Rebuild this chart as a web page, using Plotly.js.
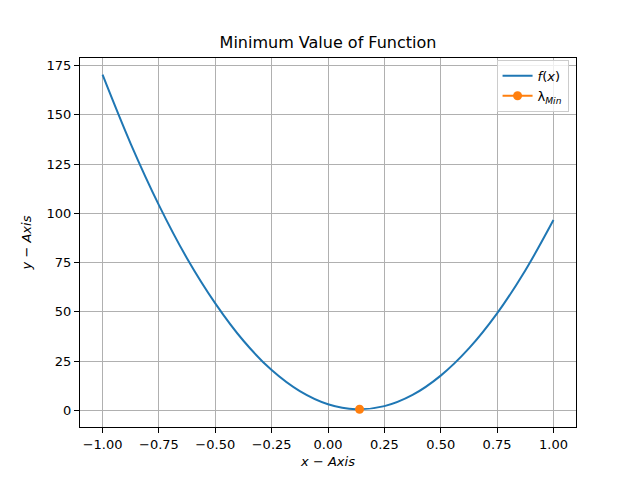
<!DOCTYPE html>
<html>
<head>
<meta charset="utf-8">
<script src="https://cdn.plot.ly/plotly-3.0.1.min.js"></script>
<style>
  body { margin: 0; background: #fff; }
  #chart { width: 640px; height: 480px; }
</style>
</head>
<body>
<div id="chart"></div>
<script>
// values (smoothed by eye)
var xs = [-1, -0.875, -0.75, -0.625, -0.5, -0.375, -0.25, -0.125, 0,
          0.125, 0.25, 0.375, 0.5, 0.625, 0.75, 0.875, 1];
var fx = [170.4, 135.3, 104.2, 77.1, 54.3, 35.3, 20.4, 9.7, 3.05,
          0.52, 2.1, 7.8, 17.6, 31.4, 49.2, 71.0, 96.6];
var minX = [0.14];
var minY = [0.5];

var font = 'DejaVu Sans, sans-serif';

var data = [{
  x: xs,
  y: fx,
  mode: 'lines',
  line: { color: '#1f77b4', width: 2, shape: 'spline', smoothing: 1 },
  name: '<i>f</i>(<i>x</i>)'
}, {
  x: minX,
  y: minY,
  mode: 'lines+markers',
  line: { color: '#ff7f0e', width: 2 },
  marker: { color: '#ff7f0e', size: 9 },
  name: '&#955;<sub><i>Min</i></sub>'
}];

var axisStyle = {
  showline: true,
  mirror: true,
  linecolor: '#000',
  linewidth: 1,
  ticks: 'outside',
  ticklen: 5,
  tickcolor: '#000',
  showgrid: true,
  gridcolor: '#b0b0b0',
  gridwidth: 1,
  zeroline: false,
  tickfont: { family: font, size: 13, color: '#000' }
};

var layout = {
  width: 640,
  height: 480,
  margin: { l: 80, r: 64, t: 58, b: 53 },
  paper_bgcolor: '#fff',
  plot_bgcolor: '#fff',
  showlegend: true,
  font: { family: font, color: '#000' },
  title: {
    text: 'Minimum Value of Function',
    font: { family: font, size: 16, color: '#000' },
    x: 0.5, xref: 'paper', xanchor: 'center',
    y: 0.912, yref: 'container', yanchor: 'middle'
  },
  xaxis: Object.assign({}, axisStyle, {
    range: [-1.1, 1.1],
    tick0: -1,
    dtick: 0.25,
    tickformat: '.2f',
    title: { text: '<i>x</i> &#8722; <i>Axis</i>', font: { family: font, size: 13 }, standoff: 6 }
  }),
  yaxis: Object.assign({}, axisStyle, {
    range: [-8.5, 178.9],
    tick0: 0,
    dtick: 25,
    title: { text: '<i>y</i> &#8722; <i>Axis</i>', font: { family: font, size: 13 }, standoff: 12 }
  }),
  legend: {
    x: 0.985, y: 0.995, xanchor: 'right', yanchor: 'top',
    bgcolor: 'rgba(255,255,255,0.8)',
    bordercolor: '#cccccc',
    borderwidth: 1,
    font: { family: font, size: 13, color: '#000' }
  }
};

Plotly.newPlot('chart', data, layout, { staticPlot: true });
</script>
</body>
</html>
